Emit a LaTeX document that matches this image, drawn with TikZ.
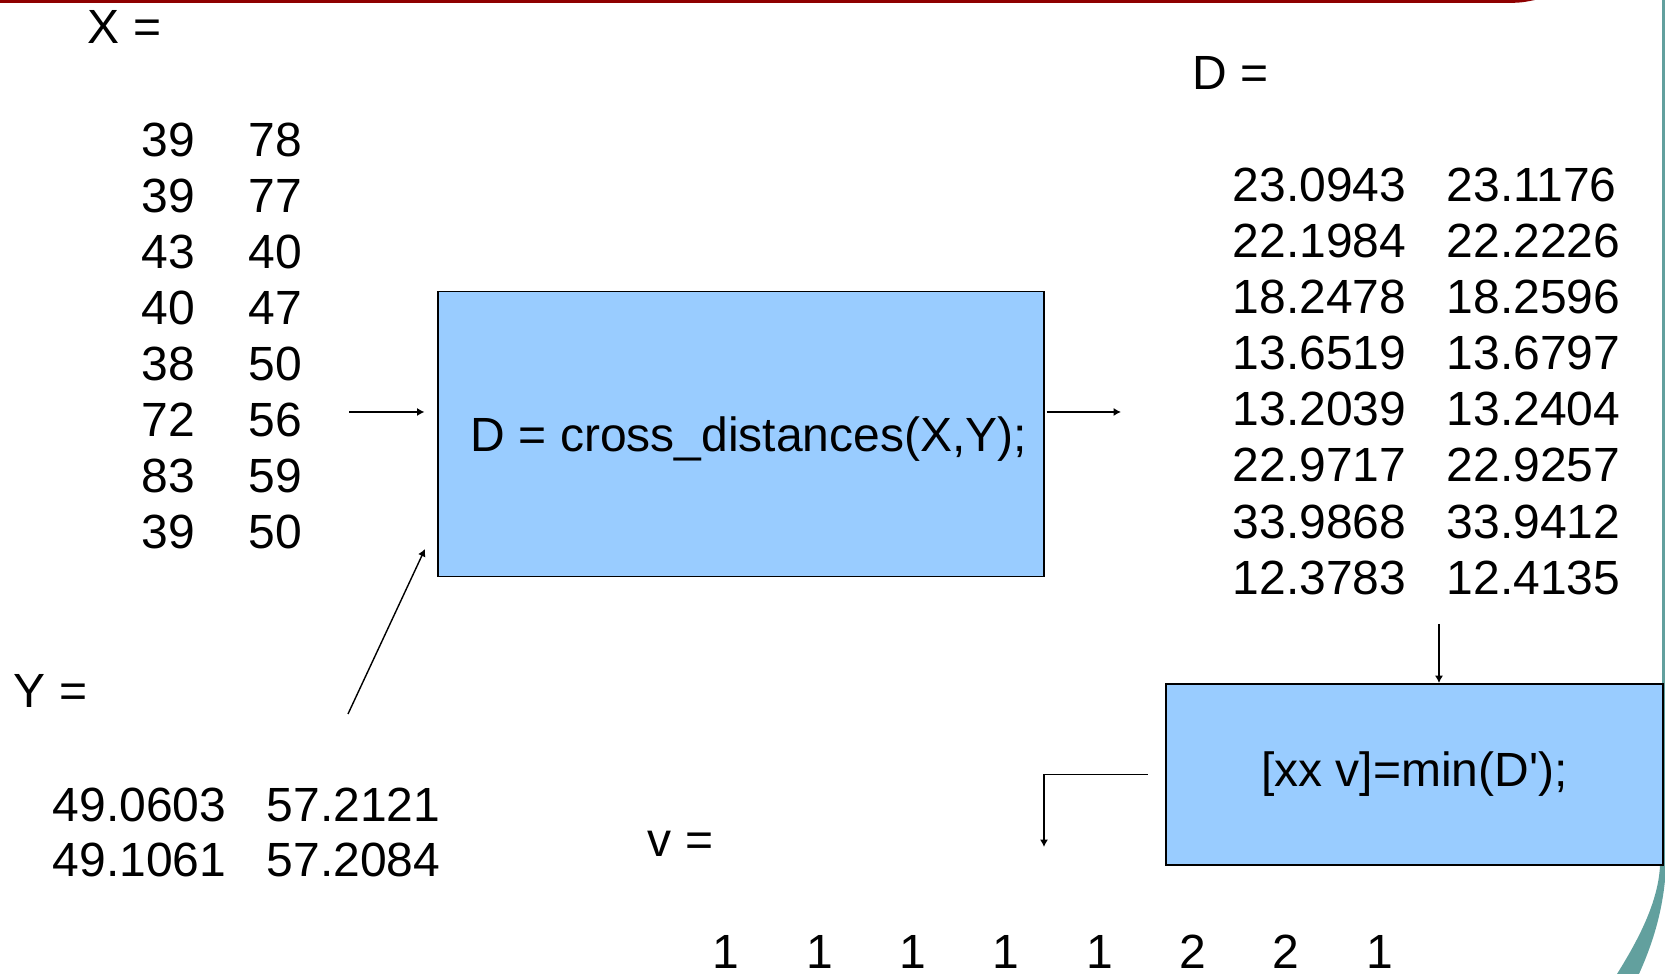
\documentclass[tikz,border=0pt]{standalone}
\usepackage{fontspec}
\setmainfont{Liberation Sans}
\usetikzlibrary{positioning,arrows.meta}
\definecolor{boxblue}{HTML}{99CCFF}
\definecolor{slidered}{HTML}{8E0000}
\definecolor{slideteal}{HTML}{62A09E}

\begin{document}
\begin{tikzpicture}[x=0.01cm,y=-0.01cm,line width=0.4pt,
                    >={Latex[length=2.1pt,width=2.3pt]},
                    font=\fontsize{13.65}{16}\selectfont]
\tikzset{lbl/.style = {anchor=base west,inner sep=0pt},
         val/.style = {anchor=base,inner sep=0pt},
         opbox/.style = {draw,fill=boxblue,line width=0.5pt,inner sep=0pt}}
\useasboundingbox (0,0) rectangle (1665,974);

% slide frame
\fill[slidered] (0,0) -- (1535,0) .. controls (1520,3) .. (1490,3) -- (0,3) -- cycle;
\fill[slideteal] (1662,0) -- (1666,0) -- (1666,866)
  .. controls (1664,910) and (1652,945) .. (1639,974) -- (1617,974)
  .. controls (1635,945) and (1658,905) .. (1660,866) -- (1662,800) -- cycle;

% inputs
\node[lbl] (xlabel) at (87,44) {X =};
\foreach \a/\b [count=\i from 0] in {39/78,39/77,43/40,40/47,38/50,72/56,83/59,39/50}{
  \node[lbl] (xa\i) at (141,{157+56*\i}) {\a};
  \node[lbl] (xb\i) at (248,{157+56*\i}) {\b};
}
\node[lbl] (ylabel) at (13,708) {Y =};
\node[lbl] (ya0) at (52,822) {49.0603};  \node[lbl] (yb0) at (266,822) {57.2121};
\node[lbl] (ya1) at (52,877) {49.1061};  \node[lbl] (yb1) at (266,877) {57.2084};

% operations
\node[opbox,minimum width=6.05cm,minimum height=2.85cm] (dist) at (741,434) {};
\node[inner sep=0pt,xshift=0.08cm,yshift=-0.05cm] (disttext) at (dist.center)
  {D = cross\_distances(X,Y);};
\node[opbox,minimum width=4.97cm,minimum height=1.81cm] (minbox) at (1414.5,774.5)
  {[xx v]=min(D\textquotesingle);};

% result D
\node[lbl] (dlabel) at (1192,89.5) {D =};
\foreach \a/\b [count=\i from 0] in {23.0943/23.1176,22.1984/22.2226,18.2478/18.2596,
    13.6519/13.6797,13.2039/13.2404,22.9717/22.9257,33.9868/33.9412,12.3783/12.4135}{
  \node[lbl] (da\i) at (1232,{201.5+56.1*\i}) {\a};
  \node[lbl] (db\i) at (1446,{201.5+56.1*\i}) {\b};
}

% result v
\node[lbl] (vlabel) at (647,857) {v =};
\foreach \v [count=\i from 0] in {1,1,1,1,1,2,2,1}
  \node[val] (v\i) at ({726.3+93.3*\i},969) {\v};

% connectors
\coordinate (xtail) at (349,412);
\coordinate (ytail) at (348,714);
\coordinate (yhead) at (425,549);
\coordinate (dhead) at (1121,412);
\coordinate (mintail) at (1439,624);
\coordinate (vhead) at (1044,847);
\draw[->,shorten >=0.13cm] (xtail) -- (xtail -| dist.west);
\draw[->] (ytail) -- (yhead);
\draw[->] ([xshift=0.02cm]dhead -| dist.east) -- (dhead);
\draw[->] (mintail) -- (mintail |- minbox.north);
\draw[->] ([xshift=-0.17cm]minbox.west) -| (vhead);
\end{tikzpicture}
\end{document}
